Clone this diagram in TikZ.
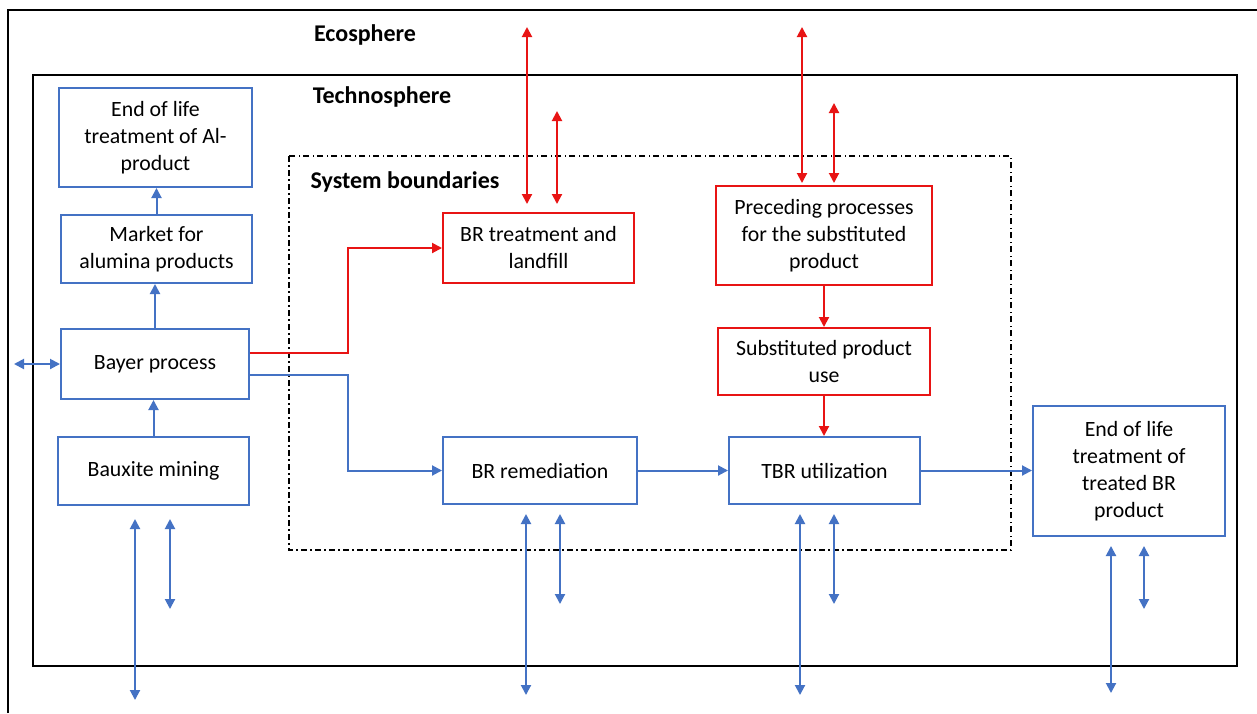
\documentclass[tikz,border=0pt]{standalone}
\usepackage{fontspec}
\setmainfont{Carlito}
\usetikzlibrary{arrows.meta}
\definecolor{flowblue}{RGB}{68,114,196}
\definecolor{flowred}{RGB}{232,20,20}
\begin{document}
\begin{tikzpicture}[x=1pt,y=-1pt,every node/.style={font=\fontsize{21.8}{27}\selectfont},
        bbox/.style={rectangle,draw=flowblue,line width=2pt,align=center,inner sep=0},
        rbox/.style={rectangle,draw=flowred,line width=2pt,align=center,inner sep=0},
        bline/.style={flowblue,line width=2pt,-{Triangle[length=10pt,width=10pt]}},
        rline/.style={flowred,line width=2pt,-{Triangle[length=10pt,width=10pt]}},
        bdbl/.style={flowblue,line width=2pt,{Triangle[length=10pt,width=10pt]}-{Triangle[length=10pt,width=10pt]}},
        rdbl/.style={flowred,line width=2pt,{Triangle[length=10pt,width=10pt]}-{Triangle[length=10pt,width=10pt]}},
        lbl/.style={font=\fontsize{24}{28}\selectfont\bfseries}]
        \fill[white] (0,0) rectangle (1257,713);
        \useasboundingbox (0,0) rectangle (1257,713);
        % spheres and boundaries
        \draw[line width=2.2pt] (8,713) |- (1257,10);
        \draw[line width=2.2pt] (33,75) rectangle (1237,666);
        \draw[line width=1.5pt,dash pattern=on 6pt off 3pt on 1.5pt off 3.5pt] (289,156) rectangle (1011,550);
        \node[lbl] (eco) at (365,35) {Ecosphere};
        \node[lbl] (techno) at (382,97) {Technosphere};
        \node[lbl] (sysb) at (405,182) {System boundaries};
        % process boxes
        \node[bbox,minimum width=193,minimum height=99] (eolal) at (155.5,137.5) {End of life\\treatment of Al-\\product};
        \node[bbox,minimum width=191,minimum height=68] (market) at (156.5,249) {Market for\\alumina products};
        \node[bbox,minimum width=188,minimum height=70] (bayer) at (155,364) {Bayer process};
        \node[bbox,minimum width=191,minimum height=68] (bauxite) at (153.5,471) {Bauxite mining};
        \node[rbox,minimum width=191,minimum height=70] (brtreat) at (538.5,248) {BR treatment and\\landfill};
        \node[rbox,minimum width=216,minimum height=99] (preced) at (824,235.5) {Preceding processes\\for the substituted\\product};
        \node[rbox,minimum width=212,minimum height=67] (subst) at (824,361.5) {Substituted product\\use};
        \node[bbox,minimum width=194,minimum height=67] (brrem) at (540,470.5) {BR remediation};
        \node[bbox,minimum width=191,minimum height=67] (tbr) at (824.5,470.5) {TBR utilization};
        \node[bbox,minimum width=192,minimum height=130] (eolbr) at (1129,471) {End of life\\treatment of\\treated BR\\product};
        % flows
        \draw[bline] (bauxite.north) -- (bauxite.north |- bayer.south);
        \draw[bline] (bayer.north) -- (bayer.north |- market.south);
        \draw[bline] (market.north) -- (market.north |- eolal.south);
        \draw[rline] ([yshift=11pt]bayer.east) -- ++(98,0) |- (brtreat.west);
        \draw[bline] ([yshift=-11pt]bayer.east) -- ++(98,0) |- (brrem.west);
        \draw[bline] (brrem) -- (tbr);
        \draw[bline] (tbr.east) -- (tbr.east -| eolbr.west);
        \draw[rline] (preced.south) -- (preced.south |- subst.north);
        \draw[rline] (subst.south) -- (subst.south |- tbr.north);
        % exchanges with the ecosphere
        \coordinate (wbayer) at (14,364);
        \draw[bdbl] (wbayer) -- (bayer.west);
        \foreach \x/\y/\b/\g/\n in {527/27/brtreat/8/1,557/111/brtreat/8/2,802/27/preced/2/3,834/103/preced/2/4}{
            \coordinate (t\n) at (\x,\y);
            \draw[rdbl,shorten <=\g pt] (t\n |- \b.north) -- (t\n);
        }
        \foreach \xl/\xs/\b/\g/\yl/\ys in {135/170/bauxite/13/700/609,526/560/brrem/9/695/604,800/834/tbr/9/695/604,1111/1144/eolbr/9/693/609}{
            \coordinate (l\b) at (\xl,\yl);
            \coordinate (s\b) at (\xs,\ys);
            \draw[bdbl,shorten <=\g pt] (l\b |- \b.south) -- (l\b);
            \draw[bdbl,shorten <=\g pt] (s\b |- \b.south) -- (s\b);
        }
\end{tikzpicture}
\end{document}
